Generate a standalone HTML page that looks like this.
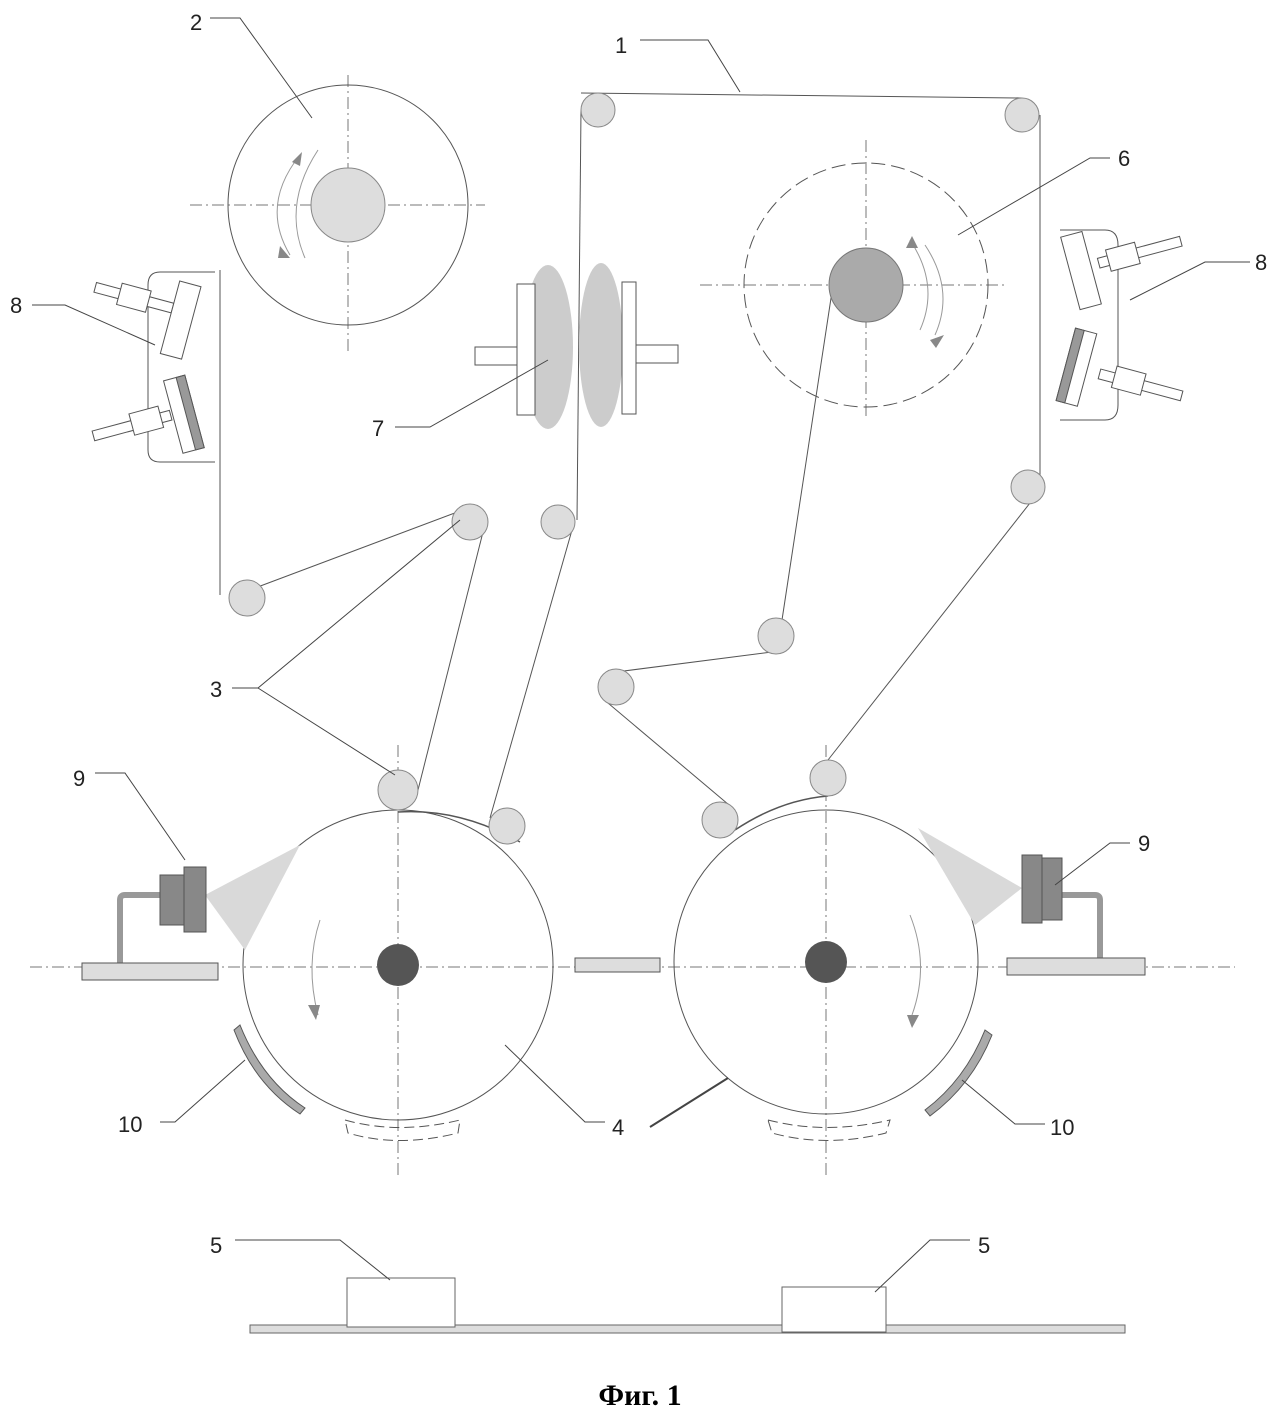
<!DOCTYPE html>
<html><head><meta charset="utf-8"><style>body{margin:0;background:#fff}svg{display:block}</style></head>
<body>
<svg width="1280" height="1422" viewBox="0 0 1280 1422" xmlns="http://www.w3.org/2000/svg" font-family="Liberation Sans, sans-serif">
<g stroke="#555" stroke-width="1" fill="none">
<g stroke-dasharray="12,4,2,4" stroke="#777">
<line x1="30" y1="967" x2="1235" y2="967"/>
<line x1="398" y1="745" x2="398" y2="1175"/>
<line x1="826" y1="745" x2="826" y2="1175"/>
<line x1="348" y1="75" x2="348" y2="355"/>
<line x1="190" y1="205" x2="485" y2="205"/>
<line x1="866" y1="140" x2="866" y2="420"/>
<line x1="700" y1="285" x2="1005" y2="285"/>
</g>
<line x1="581" y1="93" x2="1022" y2="98"/>
<line x1="581" y1="110" x2="577" y2="520"/>
<line x1="1040" y1="115" x2="1040" y2="487"/>
<line x1="220" y1="270" x2="220" y2="595"/>
<line x1="255" y1="588" x2="468" y2="508"/>
<line x1="484" y1="528" x2="418" y2="790"/>
<line x1="572" y1="530" x2="490" y2="818"/>
<line x1="782" y1="620" x2="833" y2="285"/>
<line x1="772" y1="652" x2="616" y2="672"/>
<line x1="602" y1="698" x2="735" y2="810"/>
<line x1="1030" y1="503" x2="828" y2="760"/>
<path d="M398 812 Q460 808 520 842" stroke-width="1.5"/>
<path d="M735 830 Q780 800 828 796" stroke-width="1.5"/>
<circle cx="348" cy="205" r="120"/>
<path d="M300 155 Q260 205 290 255" stroke="#999"/>
<path d="M318 150 Q282 205 305 258" stroke="#999"/>
<circle cx="866" cy="285" r="122" stroke-dasharray="14,6"/>
<path d="M910 240 Q940 285 920 330" stroke="#999"/>
<path d="M925 245 Q955 290 935 335" stroke="#999"/>
<circle cx="398" cy="965" r="155"/>
<circle cx="826" cy="962" r="152"/>
<path d="M320 920 Q305 965 318 1015" stroke="#999"/>
<path d="M910 915 Q930 965 912 1015" stroke="#999"/>
<path d="M345 1120 Q398 1135 460 1120 L458 1133 Q398 1148 348 1133 Z" stroke-dasharray="10,5"/>
<path d="M768 1120 Q826 1135 890 1120 L886 1133 Q826 1148 772 1133 Z" stroke-dasharray="10,5"/>
</g>
<g fill="#888">
<polygon points="292,162 302,152 300,166"/>
<polygon points="280,246 290,258 278,258"/>
<polygon points="912,236 918,248 906,248"/>
<polygon points="930,340 944,335 936,348"/>
<polygon points="308,1005 320,1005 316,1020"/>
<polygon points="907,1015 919,1015 912,1028"/>
</g>
<circle cx="348" cy="205" r="37" fill="#ddd" stroke="#888"/>
<circle cx="866" cy="285" r="37" fill="#aaa" stroke="#777"/>
<circle cx="398" cy="965" r="21" fill="#555"/>
<circle cx="826" cy="962" r="21" fill="#555"/>
<g fill="#ddd" stroke="#888">
<circle cx="598" cy="110" r="17"/><circle cx="1022" cy="115" r="17"/>
<circle cx="247" cy="598" r="18"/><circle cx="470" cy="522" r="18"/>
<circle cx="558" cy="522" r="17"/><circle cx="1028" cy="487" r="17"/>
<circle cx="776" cy="636" r="18"/><circle cx="616" cy="687" r="18"/>
<circle cx="398" cy="790" r="20"/><circle cx="507" cy="826" r="18"/>
<circle cx="720" cy="820" r="18"/><circle cx="828" cy="778" r="18"/>
</g>
<g stroke="#555" fill="#fff">
<rect x="475" y="347" width="42" height="18"/>
<rect x="636" y="345" width="42" height="18"/>
<ellipse cx="548" cy="347" rx="25" ry="82" fill="#ccc" stroke="none"/>
<ellipse cx="601" cy="345" rx="22" ry="82" fill="#ccc" stroke="none"/>
<rect x="517" y="284" width="18" height="131"/>
<rect x="622" y="282" width="14" height="132"/>
</g>
<g stroke="#555">
<path d="M215 272 H160 Q148 272 148 285 V450 Q148 462 160 462 H215" fill="none"/>
<path d="M1060 230 H1105 Q1118 230 1118 245 V405 Q1118 420 1105 420 H1060" fill="none"/>
<g transform="rotate(15 190 320)"><rect x="90" y="308" width="80" height="10" fill="#fff"/><rect x="115" y="302" width="30" height="22" fill="#fff"/><rect x="170" y="285" width="22" height="75" fill="#fff"/></g>
<g transform="rotate(-15 190 410)"><rect x="90" y="405" width="80" height="10" fill="#fff"/><rect x="130" y="398" width="30" height="22" fill="#fff"/><rect x="172" y="375" width="22" height="75" fill="#fff"/><rect x="185" y="375" width="9" height="75" fill="#999"/></g>
<g transform="rotate(-15 1085 270)"><rect x="1100" y="262" width="85" height="10" fill="#fff"/><rect x="1110" y="256" width="30" height="22" fill="#fff"/><rect x="1070" y="232" width="22" height="75" fill="#fff"/></g>
<g transform="rotate(15 1085 370)"><rect x="1100" y="365" width="85" height="10" fill="#fff"/><rect x="1115" y="358" width="30" height="22" fill="#fff"/><rect x="1065" y="332" width="22" height="75" fill="#fff"/><rect x="1065" y="332" width="9" height="75" fill="#999"/></g>
</g>
<polygon points="205,895 300,845 245,950" fill="#d9d9d9"/>
<polygon points="1022,888 918,828 975,925" fill="#d9d9d9"/>
<g stroke="#555">
<path d="M160 895 H125 Q120 895 120 900 V965" fill="none" stroke="#999" stroke-width="6"/>
<rect x="160" y="875" width="28" height="50" fill="#888"/>
<rect x="184" y="867" width="22" height="65" fill="#888"/>
<rect x="82" y="963" width="136" height="17" fill="#ddd"/>
<path d="M1060 895 H1095 Q1100 895 1100 900 V960" fill="none" stroke="#999" stroke-width="6"/>
<rect x="1038" y="858" width="24" height="62" fill="#888"/>
<rect x="1022" y="855" width="20" height="68" fill="#888"/>
<rect x="1007" y="958" width="138" height="17" fill="#ddd"/>
<rect x="575" y="958" width="85" height="14" fill="#ddd"/>
<path d="M240 1025 Q262 1080 305 1108 L300 1114 Q255 1085 234 1030 Z" fill="#aaa"/>
<path d="M985 1030 Q965 1080 925 1110 L930 1116 Q972 1085 992 1035 Z" fill="#aaa"/>
</g>
<g stroke="#666">
<rect x="250" y="1325" width="875" height="8" fill="#ddd"/>
<rect x="347" y="1278" width="108" height="49" fill="#fff"/>
<rect x="782" y="1287" width="104" height="45" fill="#fff"/>
</g>
<g stroke="#444" fill="none">
<path d="M640 40 H708 L740 92"/>
<path d="M210 18 H240 L312 118"/>
<path d="M1110 158 H1090 L958 235"/>
<path d="M1250 262 H1205 L1130 300"/>
<path d="M32 305 H65 L155 345"/>
<path d="M395 427 H430 L548 360"/>
<path d="M232 688 H258 L460 520 M258 688 L395 775"/>
<path d="M95 773 H125 L185 860"/>
<path d="M1130 843 H1110 L1055 885"/>
<path d="M160 1122 H175 L245 1060"/>
<path d="M1045 1124 H1015 L962 1080"/>
<path d="M605 1122 H585 L505 1045"/>
<path d="M650 1127 L728 1078" stroke-width="2"/>
<path d="M235 1240 H340 L390 1280"/>
<path d="M970 1240 H930 L875 1292"/>
</g>
<g font-size="22" fill="#222">
<text x="615" y="53">1</text><text x="190" y="30">2</text><text x="1118" y="166">6</text>
<text x="1255" y="270">8</text><text x="10" y="313">8</text><text x="372" y="436">7</text>
<text x="210" y="697">3</text><text x="73" y="786">9</text><text x="1138" y="851">9</text>
<text x="118" y="1132">10</text><text x="1050" y="1135">10</text><text x="612" y="1135">4</text>
<text x="210" y="1253">5</text><text x="978" y="1253">5</text>
</g>
<text x="640" y="1405" text-anchor="middle" font-family="Liberation Serif, serif" font-weight="bold" font-size="30">Фиг. 1</text>
</svg>
</body></html>
